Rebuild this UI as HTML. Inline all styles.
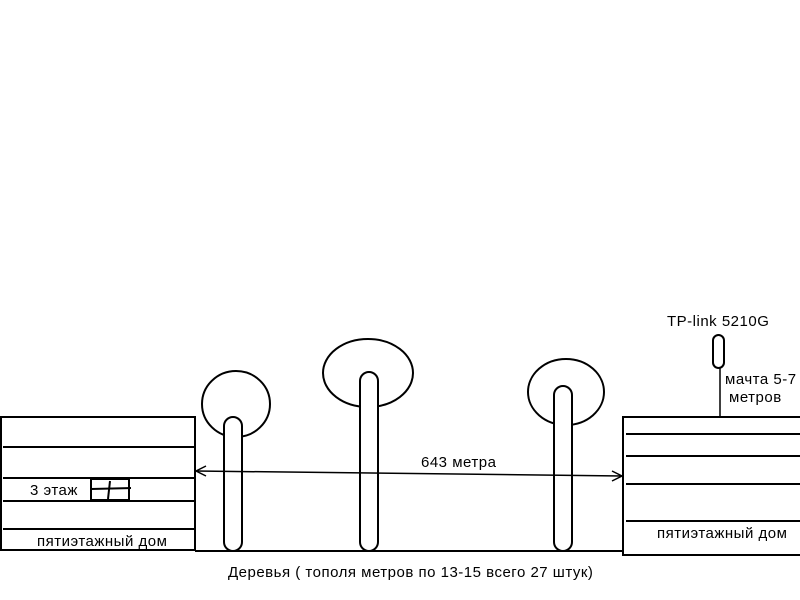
<!DOCTYPE html>
<html><head><meta charset="utf-8"><style>body{margin:0;background:#fff}svg{display:block}text{font-family:"Liberation Sans",sans-serif;font-size:15px;letter-spacing:0.5px;fill:#000}</style></head><body>
<svg width="800" height="600" viewBox="0 0 800 600" fill="none" stroke="#000" stroke-width="2">
<line x1="195" y1="551" x2="623" y2="551"/>
<rect x="1" y="417" width="194" height="133"/>
<line x1="3" y1="447" x2="195" y2="447"/>
<line x1="3" y1="478" x2="195" y2="478"/>
<line x1="3" y1="501" x2="195" y2="501"/>
<line x1="3" y1="529" x2="195" y2="529"/>
<rect x="91" y="479" width="38" height="21"/>
<line x1="91" y1="489" x2="131" y2="488"/>
<line x1="110" y1="481" x2="108" y2="499"/>
<rect x="623" y="417" width="180" height="138"/>
<line x1="626" y1="434" x2="800" y2="434"/>
<line x1="626" y1="456" x2="800" y2="456"/>
<line x1="626" y1="484" x2="800" y2="484"/>
<line x1="626" y1="521" x2="800" y2="521"/>
<rect x="713" y="335" width="11" height="33" rx="5.5"/>
<line x1="720" y1="368" x2="720" y2="417" stroke-width="1.5"/>
<ellipse cx="236" cy="404" rx="34" ry="33"/>
<rect x="224" y="417" width="18" height="134" rx="9" fill="#fff"/>
<ellipse cx="368" cy="373" rx="45" ry="34"/>
<rect x="360" y="372" width="18" height="179" rx="9" fill="#fff"/>
<ellipse cx="566" cy="392" rx="38" ry="33"/>
<rect x="554" y="386" width="18" height="165" rx="9" fill="#fff"/>
<line x1="196" y1="471" x2="622" y2="476" stroke-width="1.5"/>
<polyline points="206,466 196,471 206,476" stroke-width="1.5"/>
<polyline points="612,471 622,476 612,481" stroke-width="1.5"/>
<g stroke="none">
<text x="30" y="495">3 этаж</text>
<text x="37" y="546">пятиэтажный дом</text>
<text x="657" y="538">пятиэтажный дом</text>
<text x="667" y="326">TP-link 5210G</text>
<text x="725" y="384">мачта 5-7</text>
<text x="729" y="402">метров</text>
<text x="421" y="467">643 метра</text>
<text x="228" y="577">Деревья ( тополя метров по 13-15 всего 27 штук)</text>
</g>
</svg>
</body></html>
